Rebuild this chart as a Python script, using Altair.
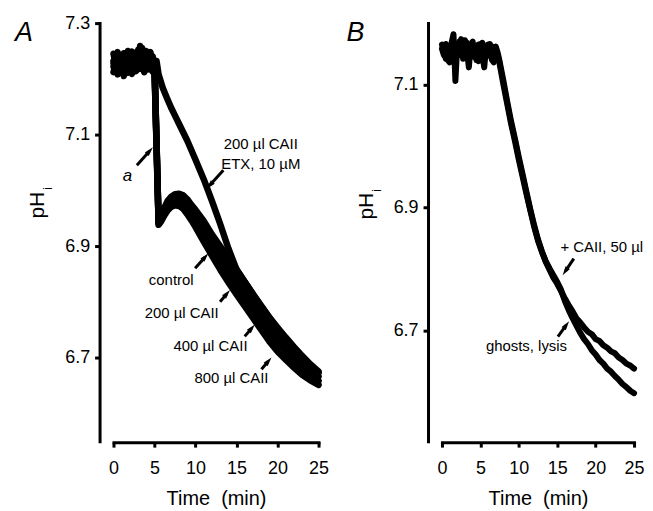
import math
import altair as alt
import pandas as pd

FONT = "Liberation Sans"

# ---------------- Panel A data ----------------
A_t_plateau = [0, 0.25, 0.5, 0.75, 1, 1.25, 1.5, 1.75, 2, 2.25, 2.5, 2.75,
               3, 3.25, 3.5, 3.75, 4, 4.25, 4.5, 4.75, 5]
A_t_post = [5.5, 5.8, 6.2, 6.6, 7, 7.5, 8, 8.5, 9, 9.5, 10, 11, 12, 13, 14,
            15, 16, 17, 18, 19, 20, 21, 22, 23, 24, 25]

c1_plateau = [7.232, 7.221, 7.238, 7.226, 7.241, 7.219, 7.233, 7.244, 7.228, 7.236, 7.222,
              7.247, 7.231, 7.259, 7.240, 7.227, 7.243, 7.236, 7.248, 7.230, 7.225]
c2_plateau = [7.222, 7.236, 7.215, 7.230, 7.212, 7.238, 7.224, 7.218, 7.240, 7.214, 7.232,
              7.226, 7.245, 7.236, 7.228, 7.242, 7.222, 7.238, 7.229, 7.241, 7.220]
c3_plateau = [7.245, 7.228, 7.248, 7.235, 7.226, 7.246, 7.231, 7.250, 7.237, 7.249, 7.240,
              7.233, 7.252, 7.241, 7.255, 7.238, 7.250, 7.232, 7.244, 7.236, 7.228]
c4_plateau = [7.212, 7.225, 7.208, 7.219, 7.227, 7.205, 7.218, 7.211, 7.224, 7.209, 7.220,
              7.214, 7.227, 7.218, 7.223, 7.212, 7.226, 7.217, 7.222, 7.213, 7.215]

c1_post = [6.942, 6.952, 6.969, 6.981, 6.988, 6.993, 6.994, 6.991, 6.984, 6.974, 6.965, 6.945,
           6.921, 6.900, 6.879, 6.858, 6.836, 6.814, 6.793, 6.772, 6.752, 6.735, 6.718, 6.702,
           6.686, 6.672]
c2_post = [6.940, 6.950, 6.965, 6.977, 6.983, 6.987, 6.987, 6.983, 6.975, 6.964, 6.954, 6.932,
           6.908, 6.886, 6.864, 6.843, 6.822, 6.800, 6.780, 6.760, 6.741, 6.724, 6.708, 6.693,
           6.679, 6.666]
c3_post = [6.944, 6.950, 6.962, 6.971, 6.977, 6.980, 6.979, 6.975, 6.966, 6.955, 6.944, 6.920,
           6.896, 6.873, 6.851, 6.829, 6.808, 6.786, 6.765, 6.745, 6.727, 6.711, 6.696, 6.682,
           6.669, 6.658]
c4_post = [6.938, 6.944, 6.955, 6.964, 6.970, 6.973, 6.972, 6.967, 6.957, 6.946, 6.934, 6.908,
           6.883, 6.858, 6.835, 6.813, 6.792, 6.771, 6.750, 6.729, 6.711, 6.696, 6.682, 6.669,
           6.659, 6.651]

etx_plateau = [7.228, 7.242, 7.224, 7.236, 7.219, 7.231, 7.246, 7.226, 7.239, 7.230, 7.244,
               7.228, 7.238, 7.250, 7.233, 7.241, 7.229, 7.246, 7.235, 7.240, 7.232]
etx_t_post = [5.25, 5.5, 6, 6.5, 7, 7.5, 8, 9, 10, 11, 12, 13, 14, 15, 16, 17, 18, 19, 20,
              21, 22, 23, 24, 25]
etx_post = [7.232, 7.208, 7.184, 7.166, 7.149, 7.134, 7.119, 7.089, 7.055, 7.020, 6.981, 6.940,
            6.896, 6.858, 6.836, 6.814, 6.792, 6.772, 6.754, 6.736, 6.719, 6.703, 6.688, 6.675]

# annotations A: label, t, pH (baseline)
A_labels = ["200 µl CAII", "ETX, 10 µM", "control", "200 µl CAII", "400 µl CAII", "800 µl CAII"]
A_label_t = [17.96, 17.96, 7.04, 8.31, 11.83, 14.38]
A_label_pH = [7.075, 7.039, 6.830, 6.771, 6.711, 6.654]
A_italic_label = ["a"]
A_italic_t = [1.7]
A_italic_pH = [7.016]
# arrows A: tail t, tail pH, head t, head pH
A_arrow_t1 = [2.85, 13.39, 9.95, 12.99, 16.00, 18.04]
A_arrow_p1 = [7.045, 7.036, 6.860, 6.800, 6.738, 6.679]
A_arrow_t2 = [4.80, 11.37, 11.57, 14.20, 17.23, 19.26]
A_arrow_p2 = [7.077, 7.003, 6.887, 6.821, 6.759, 6.700]

# ---------------- Panel B data ----------------
B_t_plateau = [0, 0.25, 0.5, 0.75, 1, 1.25, 1.5, 1.75, 2, 2.25, 2.5, 2.75, 3, 3.25, 3.5,
               3.75, 4, 4.25, 4.5, 4.75, 5, 5.25, 5.5, 5.75, 6, 6.25, 6.5, 6.75, 7, 7.25]
B_t_post = [7.5, 8, 8.5, 9, 9.5, 10, 10.5, 11, 11.5, 12, 12.5, 13, 13.5, 14, 14.5, 15, 15.5,
            16, 16.5, 17, 17.5, 18, 18.5, 19, 19.5, 20, 20.5, 21, 21.5, 22, 22.5, 23, 23.5,
            24, 24.5, 25]
b1_plateau = [7.158, 7.148, 7.166, 7.140, 7.136, 7.168, 7.182, 7.106, 7.166, 7.148, 7.174,
              7.142, 7.172, 7.155, 7.128, 7.165, 7.170, 7.145, 7.162, 7.138, 7.166, 7.150,
              7.128, 7.162, 7.158, 7.166, 7.140, 7.136, 7.162, 7.152]
b2_plateau = [7.165, 7.155, 7.142, 7.162, 7.150, 7.158, 7.145, 7.165, 7.152, 7.170, 7.150,
              7.166, 7.148, 7.168, 7.152, 7.146, 7.164, 7.150, 7.140, 7.165, 7.148, 7.168,
              7.155, 7.145, 7.165, 7.148, 7.162, 7.155, 7.152, 7.148]
b1_post = [7.138, 7.106, 7.072, 7.040, 7.012, 6.982, 6.954, 6.925, 6.897, 6.871, 6.848, 6.829,
           6.812, 6.799, 6.786, 6.776, 6.764, 6.752, 6.741, 6.731, 6.720, 6.713, 6.705, 6.698,
           6.694, 6.686, 6.683, 6.676, 6.672, 6.666, 6.663, 6.656, 6.652, 6.646, 6.643, 6.638]
b2_post = [7.134, 7.100, 7.068, 7.036, 7.008, 6.978, 6.950, 6.922, 6.895, 6.869, 6.846, 6.828,
           6.813, 6.801, 6.790, 6.779, 6.766, 6.748, 6.733, 6.720, 6.708, 6.696, 6.686, 6.678,
           6.668, 6.661, 6.652, 6.646, 6.638, 6.633, 6.626, 6.620, 6.613, 6.608, 6.602, 6.598]

B_labels = ["+ CAII, 50 µl", "ghosts, lysis"]
B_label_t = [20.8, 11.0]
B_label_pH = [6.828, 6.666]
B_arrow_t1 = [17.16, 15.09]
B_arrow_p1 = [6.817, 6.690]
B_arrow_t2 = [15.71, 16.54]
B_arrow_p2 = [6.790, 6.715]

# ---------------- layout ----------------
W_A, W_B, H = 206, 193, 420
A_dom = [6.55, 7.3]
B_dom = [6.52, 7.2]


def traces(spec):
    rows = []
    for name, ts, vs in spec:
        for t, v in zip(ts, vs):
            rows.append({"series": name, "t": t, "pH": v})
    return pd.DataFrame(rows)


def arrow_frames(t1s, p1s, t2s, p2s, sx, sy, tip=5.2):
    rules, heads = [], []
    for t1, p1, t2, p2 in zip(t1s, p1s, t2s, p2s):
        dxp = (t2 - t1) * sx
        dyp = -(p2 - p1) * sy
        L = math.hypot(dxp, dyp)
        ang = math.degrees(math.atan2(dxp, -dyp)) % 360
        ct = t2 - tip * dxp / L / sx
        cp = p2 + tip * dyp / L / sy
        rules.append({"t": t1, "pH": p1, "t2": ct, "pH2": cp})
        heads.append({"t": ct, "pH": cp, "ang": ang})
    return pd.DataFrame(rules), pd.DataFrame(heads)


axis_common = dict(domainWidth=3, domainColor="black", domainCap="square",
                   tickWidth=3, tickColor="black", tickSize=5, grid=False,
                   labelFont=FONT, labelFontSize=18, labelColor="black",
                   titleFont=FONT, titleFontSize=20, titleFontWeight="normal",
                   titleColor="black", labelOverlap=False)

ARROW_PATH = "M0,-1L0.5,0.75L-0.5,0.75Z"


def panel(df, W, dom, yvals, labels, italic_labels, arrows, letter, letter_x,
          ph_x, ph_y, i_x, i_y, lw):
    X = alt.X("t:Q", scale=alt.Scale(domain=[0, 25], nice=False, zero=False),
              axis=alt.Axis(values=[0, 5, 10, 15, 20, 25], title="Time\u00a0\u00a0(min)",
                            labelFlush=False, labelPadding=13, titlePadding=11,
                            offset=1, **axis_common))
    Y = alt.Y("pH:Q", scale=alt.Scale(domain=dom, nice=False, zero=False),
              axis=alt.Axis(values=yvals, format=".1f", title=None, offset=14,
                            labelPadding=5, **axis_common))
    sx = W / 25.0
    sy = H / (dom[1] - dom[0])
    rules_df, heads_df = arrow_frames(*arrows, sx, sy)

    lines = alt.Chart(df).mark_line(color="black", strokeWidth=lw, strokeCap="round",
                                    strokeJoin="round").encode(x=X, y=Y, detail="series:N")
    rules = alt.Chart(rules_df).mark_rule(color="black", strokeWidth=3).encode(
        x=X, y=Y, x2="t2:Q", y2="pH2:Q")
    heads = alt.Chart(heads_df).mark_point(shape=ARROW_PATH, filled=True, size=110,
                                           color="black", opacity=1, strokeWidth=0).encode(
        x=X, y=Y, angle=alt.Angle("ang:Q", scale=None))
    layers = [lines, rules, heads]
    lab_df = pd.DataFrame({"label": labels[0], "t": labels[1], "pH": labels[2]})
    layers.append(alt.Chart(lab_df).mark_text(font=FONT, fontSize=15, color="black",
                                              align="center", baseline="alphabetic").encode(
        x=X, y=Y, text="label:N"))
    if italic_labels is not None:
        it_df = pd.DataFrame({"label": italic_labels[0], "t": italic_labels[1],
                              "pH": italic_labels[2]})
        layers.append(alt.Chart(it_df).mark_text(font=FONT, fontSize=17, fontStyle="italic",
                                                 color="black", align="center",
                                                 baseline="alphabetic").encode(
            x=X, y=Y, text="label:N"))
    one = pd.DataFrame({"label": [letter]})
    layers.append(alt.Chart(one).mark_text(font=FONT, fontSize=27, fontStyle="italic",
                                           color="black", align="center",
                                           baseline="alphabetic").encode(
        x=alt.value(letter_x), y=alt.value(18), text="label:N"))
    ph = pd.DataFrame({"label": ["pH"]})
    layers.append(alt.Chart(ph).mark_text(font=FONT, fontSize=21, color="black", angle=270,
                                          align="center", baseline="alphabetic").encode(
        x=alt.value(ph_x), y=alt.value(ph_y), text="label:N"))
    sub = pd.DataFrame({"label": ["i"]})
    layers.append(alt.Chart(sub).mark_text(font=FONT, fontSize=12, color="black", angle=270,
                                           align="center", baseline="alphabetic").encode(
        x=alt.value(i_x), y=alt.value(i_y), text="label:N"))
    return alt.layer(*layers).properties(width=W, height=H)


dfA = traces([
    ("control", A_t_plateau + A_t_post, c1_plateau + c1_post),
    ("200 µl CAII", A_t_plateau + A_t_post, c2_plateau + c2_post),
    ("400 µl CAII", A_t_plateau + A_t_post, c3_plateau + c3_post),
    ("800 µl CAII", A_t_plateau + A_t_post, c4_plateau + c4_post),
    ("200 µl CAII + ETX", A_t_plateau + etx_t_post, etx_plateau + etx_post),
])
dfB = traces([
    ("+ CAII, 50 µl", B_t_plateau + B_t_post, b1_plateau + b1_post),
    ("ghosts, lysis", B_t_plateau + B_t_post, b2_plateau + b2_post),
])

chartA = panel(dfA, W_A, A_dom, [6.7, 6.9, 7.1, 7.3],
               (A_labels, A_label_t, A_label_pH),
               (A_italic_label, A_italic_t, A_italic_pH),
               (A_arrow_t1, A_arrow_p1, A_arrow_t2, A_arrow_p2),
               "A", -90, -70, 183, -62, 166, 6.5)
chartB = panel(dfB, W_B, B_dom, [6.7, 6.9, 7.1],
               (B_labels, B_label_t, B_label_pH), None,
               (B_arrow_t1, B_arrow_p1, B_arrow_t2, B_arrow_p2),
               "B", -87, -69, 184, -61, 168, 6)

chart = alt.hconcat(chartA, chartB, spacing=16).configure_view(stroke=None).properties(
    padding={"left": 6, "top": 5, "right": 0, "bottom": 0})

chart.save("out.html", embed_options={"renderer": "svg", "actions": False})
